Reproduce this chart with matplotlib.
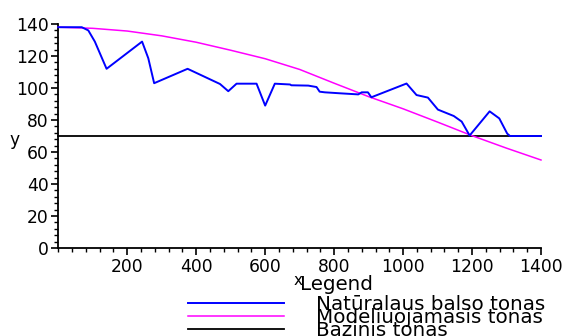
import matplotlib
matplotlib.use("Agg")
import matplotlib.pyplot as plt
from matplotlib.ticker import MultipleLocator

# data
natural_x = [0, 68, 87, 106, 140, 243, 261, 278, 375, 469, 493, 517, 575, 600, 628,
             672, 676, 725, 749, 758, 773, 816, 870, 880, 898, 908, 1010, 1039, 1072,
             1101, 1147, 1170, 1193, 1251, 1279, 1302, 1310, 1400]
natural_y = [138, 138, 136, 129, 112, 129, 118.6, 103, 112, 102.5, 98, 102.7, 102.7, 89, 102.7,
             102.2, 101.7, 101.5, 100.6, 97.7, 97.3, 96.7, 96, 97.3, 97.3, 94.2, 102.8, 95.6, 94,
             86.5, 82.5, 79, 70.3, 85.4, 81, 71.5, 70, 70]

model_x = [0, 100, 200, 300, 400, 500, 600, 700, 800, 900, 1000, 1100, 1200, 1300, 1400]
model_y = [138, 137.3, 135.6, 132.6, 128.6, 123.6, 118.3, 111.6, 103, 94.6, 87, 78.7, 70.2, 62.4, 55]

base_x = [0, 1400]
base_y = [70, 70]

labels = ["Natūralaus balso tonas", "Modeliuojamasis tonas", "Bazinis tonas"]

W, H = 567, 336
fig = plt.figure(figsize=(W / 100, H / 100), dpi=100)
ax = fig.add_axes([58.3 / W, 1 - 248 / H, (541 - 58.3) / W, 224 / H])

l3, = ax.plot(base_x, base_y, color="black", lw=1.3, clip_on=False, zorder=2)
l2, = ax.plot(model_x, model_y, color="#ff00ff", lw=1.1, clip_on=False, zorder=3)
l1, = ax.plot(natural_x, natural_y, color="#0000ff", lw=1.4, clip_on=False, zorder=4)

ax.set_xlim(0, 1400)
ax.set_ylim(0, 140)
ax.spines["top"].set_visible(False)
ax.spines["right"].set_visible(False)
ax.spines["left"].set_linewidth(1.3)
ax.spines["bottom"].set_linewidth(1.3)

ax.set_xticks([200, 400, 600, 800, 1000, 1200, 1400])
ax.xaxis.set_minor_locator(MultipleLocator(40))
ax.set_yticks(range(0, 141, 20))
ax.yaxis.set_minor_locator(MultipleLocator(4))
ax.tick_params(which="major", length=5, width=1.2, labelsize=12.3, pad=2, colors="black")
ax.tick_params(which="minor", length=3, width=1.0)

ax.set_xlabel("x", fontsize=11)
ax.xaxis.set_label_coords(0.497, -0.11)
ax.set_ylabel("y", fontsize=12.3, rotation=0)
ax.yaxis.set_label_coords(-0.09, 0.44)

fig.text(300 / W, 1 - 284 / H, "Legend", fontsize=14.3, ha="left", va="center")
fig.legend([l1, l2, l3], labels, loc="upper left",
           bbox_to_anchor=(188 / W, 1 - 294.5 / H), borderaxespad=0, borderpad=0,
           frameon=False, fontsize=14.3, handlelength=4.85, handletextpad=1.6,
           labelspacing=-0.28)

fig.savefig("out.png", dpi=100)
